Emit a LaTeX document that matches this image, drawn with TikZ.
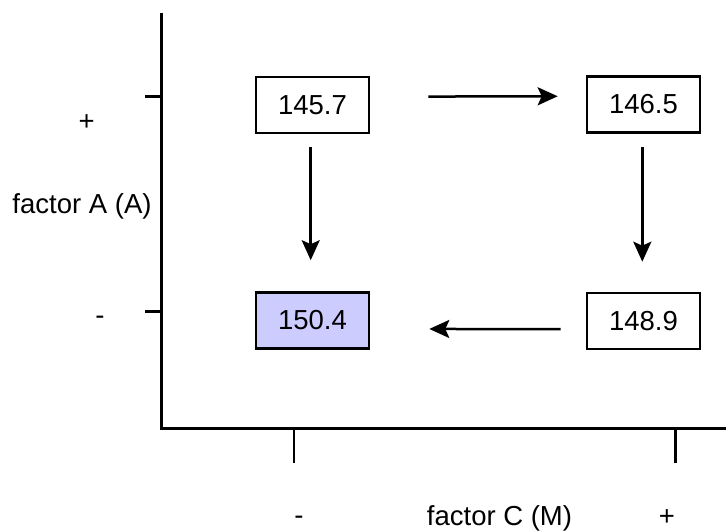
\documentclass[tikz,border=0pt]{standalone}
\usepackage{fontspec}
\setmainfont{Liberation Sans}
\usetikzlibrary{arrows.meta,positioning}

\definecolor{boxfill}{RGB}{204,204,255}

\begin{document}
\begin{tikzpicture}[x=1bp,y=-1bp,
  every node/.style={font=\fontsize{27.5bp}{32bp}\selectfont},
  valbox/.style={draw=black,line width=2.6bp,minimum width=113bp,minimum height=56bp,inner sep=0pt},
  axisline/.style={line width=2.9bp},
  ticked/.style={line width=2.7bp},
  arr/.style={line width=2.5bp,-{Stealth[length=20bp,width=18bp,inset=4bp]}}
]
\useasboundingbox (0,0) rectangle (726,532);

% axes
\coordinate (origin) at (161.7,428.3);
\coordinate (ytop) at (161.7,13);
\coordinate (xend) at (726,428.3);
\draw[axisline] (ytop) -- (origin) -- (xend);

% tick marks
\coordinate (tyA) at (145,96.7);
\coordinate (tyB) at (145,311.7);
\coordinate (txA) at (294,463);
\coordinate (txB) at (675.3,463);
\draw[ticked] (tyA) -- (tyA -| origin);
\draw[ticked] (tyB) -- (tyB -| origin);
\draw[ticked] (txA) -- (txA |- origin);
\draw[ticked] (txB) -- (txB |- origin);

% axis labels
\node (yplus)  at (86.7,122.7) {+};
\node (ylabel) at (82,206.7) {factor A (A)};
\node (yminus) at (100,320) {-};
\node (xminus) at (299,520) {-};
\node (xlabel) at (499.5,518) {factor C (M)};
\node (xplus)  at (667,518) {+};

% value boxes
\node[valbox] (b1) at (312.5,105) {145.7};
\node[valbox] (b2) at (643.5,104.5) {146.5};
\node[valbox,fill=boxfill] (b4) at (312.5,320.5) {150.4};
\node[valbox] (b3) at (643.5,321) {148.9};

% transitions
\draw[arr,shorten <=58bp,shorten >=28bp] ([yshift=8.3bp]b1.east) -- ([yshift=8.3bp]b2.west);
\draw[arr,shorten <=13bp,shorten >=31bp] ([xshift=-1.8bp]b1.south) -- ([xshift=-1.8bp]b4.north);
\draw[arr,shorten <=13bp,shorten >=30bp] ([xshift=-1.2bp]b2.south) -- ([xshift=-1.2bp]b3.north);
\draw[arr,shorten <=25bp,shorten >=59bp] ([yshift=-8.3bp]b3.west) -- ([yshift=-8.3bp]b4.east);
\end{tikzpicture}
\end{document}
